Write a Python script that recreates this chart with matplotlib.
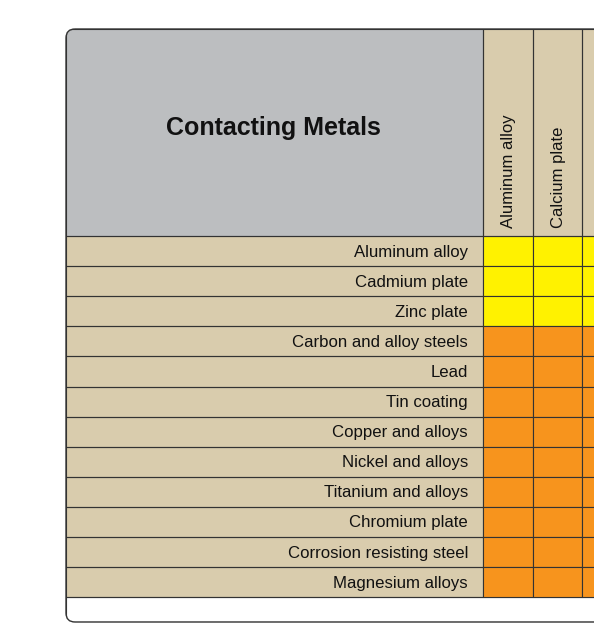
import matplotlib
matplotlib.use("Agg")
import matplotlib.pyplot as plt
from matplotlib.patches import Rectangle, FancyBboxPatch

title = "Contacting Metals"
rows = ["Aluminum alloy", "Cadmium plate", "Zinc plate", "Carbon and alloy steels",
        "Lead", "Tin coating", "Copper and alloys", "Nickel and alloys",
        "Titanium and alloys", "Chromium plate", "Corrosion resisting steel",
        "Magnesium alloys"]
cols = ["Aluminum alloy", "Calcium plate", ""]
row_group = [0, 0, 0, 1, 1, 1, 1, 1, 1, 1, 1, 1]
group_colors = ["#FFF200", "#F7941D"]

W, H = 594, 635
fig = plt.figure(figsize=(W/100, H/100), dpi=100)
ax = fig.add_axes([0, 0, 1, 1])
ax.set_xlim(0, W); ax.set_ylim(H, 0); ax.axis("off")

x0, y0, y1 = 66, 29, 622
hx = 483          # header/label column right edge
hy = 236          # header bottom
rh = 30.1         # row height
cw = 49.5         # column width
beige = "#D9CCAD"; gray = "#BCBEC0"; line = "#333333"

frame = FancyBboxPatch((x0, y0), 800, y1 - y0, boxstyle="round,pad=0,rounding_size=9",
                       fc=beige, ec="none", zorder=0)
ax.add_patch(frame)
def clipped(p):
    ax.add_patch(p); p.set_clip_path(frame); return p
clipped(Rectangle((x0, y0), hx - x0, hy - y0, fc=gray, ec=line, lw=0.8, zorder=1))
yb = hy + rh * len(rows)
clipped(Rectangle((x0, yb), 900, y1 - yb, fc="white", ec=line, lw=0.8, zorder=1))

for i, r in enumerate(rows):
    yt = hy + i * rh
    clipped(Rectangle((x0, yt), hx - x0, rh, fc="none", ec=line, lw=0.8, zorder=2))
    ax.text(hx - 15, yt + rh/2 + 1, r, ha="right", va="center", fontsize=12.1,
            family="Liberation Sans", color="#111111", zorder=3)
    for j in range(len(cols)):
        clipped(Rectangle((hx + j*cw, yt), cw, rh, fc=group_colors[row_group[i]],
                          ec=line, lw=0.8, zorder=2))
for j, c in enumerate(cols):
    clipped(Rectangle((hx + j*cw, y0), cw, hy - y0, fc="none", ec=line, lw=0.8, zorder=2))
    ax.text(hx + j*cw + cw/2 + 1, hy - 8, c, rotation=90, ha="center", va="bottom",
            fontsize=12, family="Liberation Sans", color="#111111", zorder=3)

ax.text((x0 + hx)/2 - 1, 128, title, ha="center", va="center", fontsize=18,
        fontweight="bold", family="Liberation Sans", color="#111111", zorder=3)

outline = FancyBboxPatch((x0, y0), 800, y1 - y0, boxstyle="round,pad=0,rounding_size=9",
                         fc="none", ec=line, lw=1.0, zorder=4)
ax.add_patch(outline)
fig.savefig("out.png", dpi=100)
